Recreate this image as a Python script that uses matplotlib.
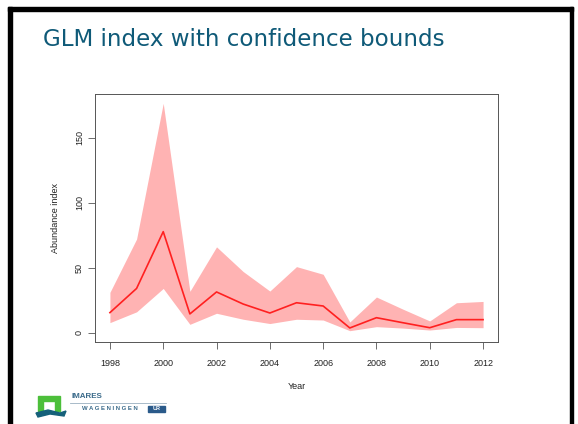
import matplotlib.pyplot as plt
from matplotlib.patches import Rectangle, Polygon

years = [1998, 1999, 2000, 2001, 2002, 2003, 2004, 2005, 2006, 2007, 2008, 2009, 2010, 2011, 2012]
index = [15.4, 34, 77.7, 14.4, 31.3, 22, 15.1, 23, 20.5, 3.6, 11.5, 7.6, 3.8, 10, 10]
upper = [31, 72, 176.4, 31.8, 66, 47, 32, 50.8, 44.9, 8.2, 27.4, 18, 9, 23, 24]
lower = [7.7, 16, 34, 6.4, 14.9, 10.3, 7, 10.3, 9.7, 1.5, 4.6, 3.5, 2, 4, 3.8]
xticks = [1998, 2000, 2002, 2004, 2006, 2008, 2010, 2012]
yticks = [0, 50, 100, 150]

W, H = 578, 424
fig = plt.figure(figsize=(W / 100, H / 100), dpi=100)
plt.rcParams['font.family'] = ['Liberation Sans', 'DejaVu Sans']

# slide frame
def px(x, y):
    return x / W, 1 - y / H

fig.add_artist(Rectangle(px(8, H), 4 / W, (H - 7) / H, color='black', transform=fig.transFigure))
fig.add_artist(Rectangle(px(8, 11), (573 - 8) / W, 4 / H, color='black', transform=fig.transFigure))
fig.add_artist(Rectangle(px(570, H), 3 / W, (H - 7) / H, color='black', transform=fig.transFigure))

fig.text(43 / W, 1 - 40 / H, "GLM index with confidence bounds", fontsize=16.6,
         color='#0f5a78', family='DejaVu Sans', va='center', ha='left')

ax = fig.add_axes([95 / W, (H - 342) / H, (498 - 95) / W, (342 - 94) / H])
ax.fill_between(years, lower, upper, color='#ffb3b3', linewidth=0)
ax.plot(years, index, color='#ff2020', linewidth=1.2)
ax.set_xlim(1997.44, 2012.56)
ax.set_ylim(-7.2, 183.6)
ax.set_xticks(xticks)
ax.set_yticks(yticks)
ax.set_xticklabels([str(t) for t in xticks], fontsize=6.5, color='#222222')
ax.set_yticklabels([str(t) for t in yticks], fontsize=6.5, color='#222222',
                   rotation=90, va='center')
ax.tick_params(direction='out', length=5, width=0.6, color='#555555')
ax.tick_params(axis='x', pad=7)
ax.tick_params(axis='y', pad=3)
for s in ax.spines.values():
    s.set_color('#555555')
    s.set_linewidth(0.7)
ax.set_xlabel("Year", fontsize=6.5, labelpad=10, color='#222222')
ax.set_ylabel("Abundance index", fontsize=6.5, labelpad=11, color='#222222')

# logo (IMARES / Wageningen UR)
fig.add_artist(Polygon([px(38, 411), px(38, 396), px(60, 396), px(60, 411), px(55, 411),
                        px(55, 401), px(43, 401), px(43, 411)], closed=True,
                       color='#4cbf3a', transform=fig.transFigure))
fig.add_artist(Polygon([px(36, 413), px(48, 410), px(60, 413), px(66, 411), px(64, 416),
                        px(50, 414), px(38, 417)], closed=True,
                       color='#15607a', transform=fig.transFigure))
fig.text(71 / W, 1 - 397 / H, "IMARES", fontsize=5.8, weight='bold', color='#3a6a8a',
         va='center', ha='left')
fig.add_artist(plt.Line2D([70 / W, 166 / W], [1 - 403 / H, 1 - 403 / H], color='#9ab0c0',
                          linewidth=0.6, transform=fig.transFigure))
fig.text(82 / W, 1 - 409 / H, "W A G E N I N G E N", fontsize=4.3, weight='bold',
         color='#3a6a8a', va='center', ha='left')
fig.add_artist(Rectangle(px(148, 412), 17 / W, 6 / H, color='#2a5a8a', transform=fig.transFigure))
fig.text(156.5 / W, 1 - 409 / H, "UR", fontsize=4, weight='bold', color='white',
         va='center', ha='center')

fig.savefig("out.png", dpi=100)
